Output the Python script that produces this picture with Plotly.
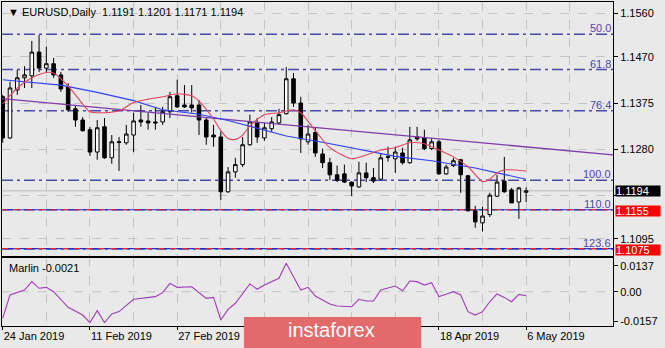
import plotly.graph_objects as go

# ---------------- data ----------------
symbol = "EURUSD"
timeframe = "Daily"
bar_index = list(range(73))
opens = [1.1388, 1.1303, 1.1402, 1.1427, 1.1431, 1.1480, 1.1447, 1.1456, 1.1433, 1.1408,
         1.1363, 1.1340, 1.1320, 1.1274, 1.1326, 1.1262, 1.1295, 1.1293, 1.1309, 1.1340,
         1.1338, 1.1336, 1.1336, 1.1357, 1.1390, 1.1371, 1.1371, 1.1371, 1.1340, 1.1309,
         1.1305, 1.1192, 1.1233, 1.1248, 1.1289, 1.1334, 1.1303, 1.1322, 1.1334, 1.1353,
         1.1425, 1.1375, 1.1295, 1.1314, 1.1270, 1.1252, 1.1227, 1.1229, 1.1212, 1.1202,
         1.1231, 1.1221, 1.1218, 1.1263, 1.1260, 1.1272, 1.1252, 1.1305, 1.1303, 1.1281,
         1.1295, 1.1229, 1.1246, 1.1258, 1.1225, 1.1153, 1.1128, 1.1145, 1.1183, 1.1214,
         1.1196, 1.1171, 1.1191]
highs = [1.1392, 1.1419, 1.1443, 1.1451, 1.1503, 1.1515, 1.1491, 1.1468, 1.1439, 1.1416,
         1.1371, 1.1346, 1.1326, 1.1340, 1.1344, 1.1309, 1.1305, 1.1330, 1.1355, 1.1371,
         1.1355, 1.1367, 1.1367, 1.1398, 1.1423, 1.1412, 1.1412, 1.1381, 1.1344, 1.1330,
         1.1316, 1.1243, 1.1262, 1.1305, 1.1351, 1.1344, 1.1334, 1.1346, 1.1363, 1.1449,
         1.1437, 1.1388, 1.1330, 1.1324, 1.1281, 1.1262, 1.1246, 1.1248, 1.1213, 1.1254,
         1.1252, 1.1241, 1.1272, 1.1285, 1.1285, 1.1283, 1.1326, 1.1326, 1.1320, 1.1303,
         1.1299, 1.1248, 1.1262, 1.1260, 1.1227, 1.1163, 1.1161, 1.1190, 1.1227, 1.1264,
         1.1200, 1.1202, 1.1201]
lows = [1.1293, 1.1301, 1.1392, 1.1406, 1.1406, 1.1439, 1.1439, 1.1427, 1.1398, 1.1357,
        1.1326, 1.1316, 1.1266, 1.1258, 1.1260, 1.1250, 1.1235, 1.1289, 1.1274, 1.1326,
        1.1320, 1.1320, 1.1330, 1.1344, 1.1365, 1.1365, 1.1355, 1.1309, 1.1289, 1.1285,
        1.1175, 1.1190, 1.1221, 1.1243, 1.1287, 1.1293, 1.1297, 1.1316, 1.1330, 1.1351,
        1.1367, 1.1272, 1.1289, 1.1264, 1.1241, 1.1216, 1.1212, 1.1210, 1.1183, 1.1200,
        1.1212, 1.1210, 1.1216, 1.1254, 1.1231, 1.1248, 1.1250, 1.1297, 1.1278, 1.1278,
        1.1227, 1.1227, 1.1243, 1.1190, 1.1151, 1.1118, 1.1110, 1.1140, 1.1181, 1.1190,
        1.1169, 1.1136, 1.1171]
closes = [1.1303, 1.1406, 1.1427, 1.1433, 1.1480, 1.1447, 1.1456, 1.1433, 1.1404, 1.1361,
          1.1340, 1.1318, 1.1274, 1.1324, 1.1262, 1.1295, 1.1294, 1.1311, 1.1338, 1.1336,
          1.1334, 1.1334, 1.1357, 1.1388, 1.1367, 1.1367, 1.1365, 1.1340, 1.1305, 1.1305,
          1.1192, 1.1233, 1.1248, 1.1289, 1.1336, 1.1305, 1.1324, 1.1336, 1.1351, 1.1425,
          1.1375, 1.1301, 1.1311, 1.1272, 1.1252, 1.1227, 1.1216, 1.1212, 1.1204, 1.1231,
          1.1221, 1.1214, 1.1262, 1.1264, 1.1274, 1.1252, 1.1299, 1.1301, 1.1281, 1.1295,
          1.1229, 1.1243, 1.1256, 1.1227, 1.1153, 1.1130, 1.1142, 1.1185, 1.1212, 1.1192,
          1.1169, 1.1200, 1.1194]

# moving averages (at bar positions)
blue_ma_idx = [0, 8, 13, 18, 22, 27, 31, 36, 39, 44, 48, 54, 59, 65, 68, 72]
blue_ma_val = [1.1423, 1.1412, 1.1397, 1.1380, 1.1361, 1.1352, 1.1339, 1.1320, 1.1307,
               1.1294, 1.1283, 1.1265, 1.1256, 1.1241, 1.1231, 1.1218]
red_ma_idx = [0, 2, 4, 6, 7, 9, 11, 12, 14, 16, 18, 20, 22, 24, 26, 27, 29, 30, 31, 32, 33,
              34, 36, 38, 40, 41, 43, 45, 48, 50, 52, 54, 56, 58, 59, 62, 64, 66, 67, 68,
              69, 72]
red_ma_val = [1.1373, 1.1406, 1.1427, 1.1438, 1.1437, 1.1410, 1.1373, 1.1357, 1.1355, 1.1359,
              1.1376, 1.1383, 1.1388, 1.1394, 1.1390, 1.1379, 1.1342, 1.1318, 1.1302, 1.1300,
              1.1309, 1.1328, 1.1351, 1.1355, 1.1361, 1.1355, 1.1318, 1.1283, 1.1260, 1.1268,
              1.1278, 1.1283, 1.1293, 1.1291, 1.1285, 1.1264, 1.1244, 1.1213, 1.1218, 1.1231,
              1.1237, 1.1235]

# trend line
trend_idx = [-0.1, 83.95]
trend_val = [1.1384, 1.1268]

# fibonacci levels
fib_labels = ["50.0", "61.8", "76.4", "100.0", "110.0", "123.6"]
fib_prices = [1.1517, 1.1444, 1.1359, 1.1216, 1.1155, 1.1074]
red_line_prices = [1.1155, 1.1075]
red_line_labels = ["1.1155", "1.1075"]

# price axis (1.1185 sits under the bid label and is not readable)
price_ticks = [1.1560, 1.1470, 1.1375, 1.1280, 1.1185, 1.1095]
price_ticks_hidden = [1.1185]

# Marlin oscillator
marlin_idx = [0, 1, 3, 4, 5, 6, 7, 9, 11, 12, 13, 14, 15, 16, 18, 21, 22, 23, 24, 26, 28, 29,
              30, 31, 32, 34, 35, 36, 38, 39, 40, 41, 42, 43, 45, 46, 48, 49, 50, 51, 52, 53,
              54, 55, 56, 57, 58, 59, 60, 61, 62, 63, 64, 65, 66, 67, 68, 69, 70, 71, 72]
marlin_val = [-0.0140, -0.0017, 0.0009, 0.0053, 0.0018, 0.0023, 0.0000, -0.0082, -0.0123,
              -0.0163, -0.0100, -0.0163, -0.0117, -0.0105, -0.0040, -0.0026, -0.0005, 0.0044,
              0.0023, 0.0026, -0.0035, -0.0030, -0.0149, -0.0093, -0.0061, 0.0041, 0.0013,
              0.0035, 0.0071, 0.0150, 0.0079, 0.0009, 0.0023, -0.0023, -0.0065, -0.0075,
              -0.0079, -0.0040, -0.0049, -0.0049, 0.0009, 0.0018, 0.0030, 0.0005, 0.0056,
              0.0053, 0.0035, 0.0047, -0.0026, -0.0014, 0.0000, -0.0017, -0.0105, -0.0123,
              -0.0105, -0.0053, -0.0012, -0.0030, -0.0053, -0.0014, -0.0021]
marlin_ticks = [0.0137, 0.0, -0.0157]
marlin_tick_text = ["0.0137", "0.00", "-0.0157"]

# date axis (labels at 36 and 48 lie under the watermark)
date_tick_idx = [0, 12, 24, 36, 48, 60, 72]
date_tick_text = ["24 Jan 2019", "11 Feb 2019", "27 Feb 2019", "15 Mar 2019",
                  "2 Apr 2019", "18 Apr 2019", "6 May 2019"]
date_tick_hidden = [36, 48]

# ---------------- styling ----------------
BG = "#e9e9e9"
GRID = "#c4c4c4"
FIB = "#4a48ac"
FONT = "Liberation Sans"

fig = go.Figure()

fig.add_trace(go.Candlestick(
    x=bar_index, open=opens, high=highs, low=lows, close=closes,
    increasing=dict(line=dict(color="black", width=1), fillcolor="white"),
    decreasing=dict(line=dict(color="black", width=1), fillcolor="black"),
    whiskerwidth=0, xaxis="x", yaxis="y", hoverinfo="skip"))

fig.add_trace(go.Scatter(x=trend_idx, y=trend_val, mode="lines",
                         line=dict(color="#7d3ca8", width=1.3), xaxis="x", yaxis="y"))
fig.add_trace(go.Scatter(x=blue_ma_idx, y=blue_ma_val, mode="lines",
                         line=dict(color="#2d40ff", width=1.1), xaxis="x", yaxis="y"))
fig.add_trace(go.Scatter(x=red_ma_idx, y=red_ma_val, mode="lines",
                         line=dict(color="#e8405c", width=1.1, shape="spline", smoothing=0.7),
                         xaxis="x", yaxis="y"))

fig.add_trace(go.Scatter(x=marlin_idx, y=marlin_val, mode="lines",
                         line=dict(color="#a23cb8", width=1.1), xaxis="x2", yaxis="y2"))

shapes = []
for p in fib_prices:
    shapes.append(dict(type="line", xref="x domain", x0=0, x1=1, yref="y", y0=p, y1=p,
                       line=dict(color=FIB, width=1.5, dash="11px,4px,3px,4px"), layer="below"))
for p in red_line_prices:
    shapes.append(dict(type="line", xref="x domain", x0=0, x1=1, yref="y", y0=p, y1=p,
                       line=dict(color="#2030d0", width=1.2), layer="below"))
    shapes.append(dict(type="line", xref="x domain", x0=0, x1=1, yref="y", y0=p, y1=p,
                       line=dict(color="#ff2020", width=1.2, dash="6px,6px"), layer="below"))
# bid line
shapes.append(dict(type="line", xref="x domain", x0=0, x1=1, yref="y", y0=closes[-1], y1=closes[-1],
                   line=dict(color="#b8b8b8", width=1), layer="below"))
# zero line of the oscillator
shapes.append(dict(type="line", xref="x2 domain", x0=0, x1=1, yref="y2", y0=0, y1=0,
                   line=dict(color=GRID, width=1, dash="dash"), layer="below"))
# watermark box
shapes.append(dict(type="rect", xref="paper", yref="paper", x0=0.396, x1=0.686, y0=-0.075, y1=0.028,
                   fillcolor="#e36a6a", line=dict(width=0), layer="above"))

annotations = []
for lab, p in zip(fib_labels, fib_prices):
    annotations.append(dict(text=lab, xref="paper", x=1.0, xanchor="right", yref="y", y=p,
                            yanchor="bottom", yshift=-2, showarrow=False,
                            font=dict(family=FONT, size=11, color=FIB)))
for lab, p in zip(red_line_labels, red_line_prices):
    annotations.append(dict(text=lab, xref="paper", x=1.0033, xanchor="left", yref="y", y=p,
                            yanchor="middle", yshift=-1, showarrow=False, bgcolor="#ff0000",
                            width=44, height=10, align="left", borderpad=0,
                            font=dict(family=FONT, size=11, color="white")))
annotations.append(dict(text=f"{closes[-1]:.4f}", xref="paper", x=1.0033, xanchor="left", yref="y",
                        y=closes[-1], yanchor="middle", showarrow=False, bgcolor="black",
                        width=44, height=10, align="left", borderpad=0,
                        font=dict(family=FONT, size=11, color="white")))
annotations.append(dict(
    text=f"\u25BC {symbol},{timeframe}  {opens[-1]:.4f} {highs[-1]:.4f} {lows[-1]:.4f} {closes[-1]:.4f}",
    xref="paper", x=0.006, xanchor="left", yref="paper", y=0.969, yanchor="middle",
    showarrow=False, font=dict(family=FONT, size=11, color="black")))
annotations.append(dict(text=f"Marlin {marlin_val[-1]:.4f}", xref="paper", x=0.008, xanchor="left",
                        yref="paper", y=0.179, yanchor="middle", showarrow=False,
                        font=dict(family=FONT, size=11, color="black")))
annotations.append(dict(text="instaforex", xref="paper", x=0.54, xanchor="center", yref="paper",
                        y=-0.013, yanchor="middle", showarrow=False,
                        font=dict(family=FONT, size=20, color="white")))

axis_common = dict(showline=True, linecolor="black", linewidth=1, mirror=True, zeroline=False)

price_tick_text = ["" if v in price_ticks_hidden else f"{v:.4f}" for v in price_ticks]
date_text_shown = ["" if i in date_tick_hidden else t for i, t in zip(date_tick_idx, date_tick_text)]

fig.update_layout(
    width=665, height=348,
    margin=dict(l=2, r=52, t=2, b=22),
    paper_bgcolor=BG, plot_bgcolor=BG,
    showlegend=False,
    font=dict(family=FONT, size=11, color="black"),
    xaxis=dict(domain=[0, 1], anchor="y", range=[-0.1, 83.95], rangeslider=dict(visible=False),
               showticklabels=False, ticks="", tickmode="linear", tick0=0, dtick=6,
               showgrid=True, gridcolor=GRID, griddash="dash", gridwidth=1, **axis_common),
    yaxis=dict(domain=[0.2160, 1], anchor="x", side="right", range=[1.105959, 1.158330],
               tickmode="array", tickvals=price_ticks, ticktext=price_tick_text,
               ticks="outside", ticklen=4, tickcolor="black",
               tickfont=dict(family=FONT, size=11),
               showgrid=True, gridcolor=GRID, griddash="dash", **axis_common),
    xaxis2=dict(domain=[0, 1], anchor="y2", range=[-0.1, 83.95],
                tickmode="array", tickvals=date_tick_idx, ticktext=date_text_shown,
                ticks="outside", ticklen=3, tickcolor="black", ticklabelposition="outside right",
                showgrid=True, gridcolor=GRID, griddash="dash",
                minor=dict(tickmode="linear", tick0=0, dtick=6, showgrid=True, gridcolor=GRID,
                           griddash="dash", ticks=""),
                **axis_common),
    yaxis2=dict(domain=[0, 0.2099], anchor="x2", side="right", range=[-0.018072, 0.017757],
                tickmode="array", tickvals=marlin_ticks, ticktext=marlin_tick_text,
                ticks="outside", ticklen=4, tickcolor="black",
                showgrid=False, **axis_common),
    shapes=shapes,
    annotations=annotations,
)

fig.write_html("out.html")
